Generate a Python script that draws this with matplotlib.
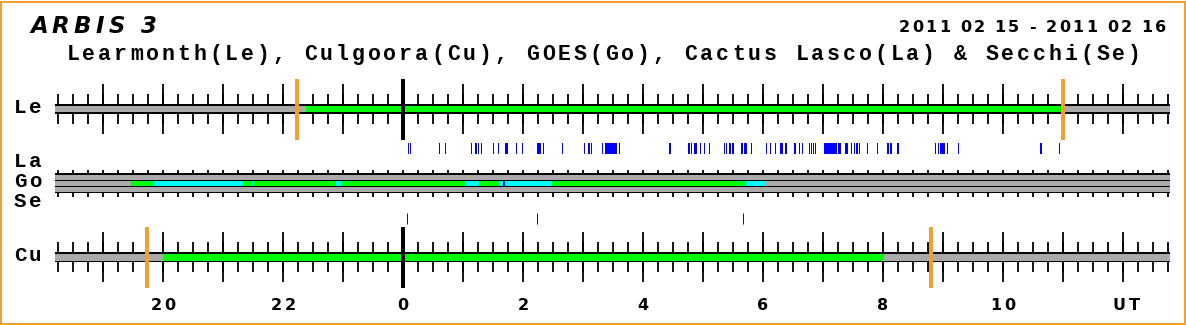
import matplotlib
matplotlib.use("Agg")
import matplotlib.pyplot as plt
import numpy as np
from matplotlib.font_manager import FontProperties
from matplotlib.patches import Rectangle

# ---------------- data (times in minutes relative to 00 UT, 2011-02-16) ----------------
hour_ticks = [-4, -2, 0, 2, 4, 6, 8, 10]
hour_labels = ["20", "22", "0", "2", "4", "6", "8", "10"]

le_obs = (-97, 659)            # Learmonth observing window (green)
le_marks = [-106, 660]         # Learmonth sunrise / sunset (orange)
cu_obs = (-240, 481)           # Culgoora observing window
cu_marks = [-256, 528]         # Culgoora sunrise / sunset

go_start = [-272, -249, -160, -151, -150, -67, -62, 62, 76, 96, 100, 102, 149, 343]
go_end   = [-249, -160, -151, -150, -67, -62, 62, 76, 96, 100, 102, 149, 343, 362]
go_color = ["g", "c", "g", "c", "g", "c", "g", "c", "g", "c", "b", "c", "g", "c"]

la_start = [5, 7, 36, 42, 68, 72, 75, 78, 90, 95, 102, 113, 119, 134, 140, 159, 181, 185,
            188, 199, 202, 216, 266, 285, 288, 291, 297, 301, 306, 321, 323, 326, 329, 338,
            341, 348, 363, 367, 372, 377, 382, 391, 396, 399, 406, 408, 410, 412, 421, 435,
            442, 448, 451, 453, 454, 456, 464, 474, 484, 487, 494, 532, 535, 537, 544, 555,
            637, 656]
la_dur = [1, 1, 1, 1, 1, 2, 1, 1, 1, 1, 3, 1, 1, 4, 1, 1, 1, 2,
          1, 1, 12, 1, 2, 2, 1, 3, 1, 1, 1, 1, 1, 2, 2, 2,
          3, 1, 1, 1, 1, 3, 2, 2, 1, 1, 1, 1, 1, 1, 13, 3,
          3, 1, 1, 1, 1, 1, 1, 1, 2, 2, 2, 1, 1, 5, 1, 1,
          2, 1]

se_times = [4, 134, 340]

x_min, x_max = -348, 767       # axis span in minutes

# ---------------- style ----------------
W, H = 1186, 325
GREEN, CYAN, BLUE = "#00FF00", "#00FFFF", "#0000FF"
GREY, ORANGE = "#AAAAAA", "#F0A030"
cmap = {"g": GREEN, "c": CYAN, "b": BLUE}

def px(v):  # pixel -> points
    return v * 72.0 / 100.0

fig = plt.figure(figsize=(W / 100, H / 100), dpi=100)
ax = fig.add_axes([0, 0, 1, 1])
ax.set_xlim(-403, W - 403)
ax.set_ylim(H, 0)
ax.axis("off")

renderer = fig.canvas.get_renderer()

def tracked(s, y, prop, x0=None, x1=None, track=0.0, center=None, color="black"):
    widths = [renderer.get_text_width_height_descent(c, prop, ismath=False)[0] for c in s]
    if x0 is not None and x1 is not None and len(s) > 1:
        track = (x1 - x0 - sum(widths)) / (len(s) - 1)
    total = sum(widths) + track * (len(s) - 1)
    if center is not None:
        x0 = center - total / 2
    x = x0
    for c, w in zip(s, widths):
        fig.text(x / W, 1 - y / H, c, fontproperties=prop, ha="left", va="baseline", color=color)
        x += w + track

minor = np.arange(x_min + 3, x_max + 1, 15)
hours = np.arange(-300, x_max + 1, 60)
tlw = px(1.8)

def station_row(top, bot, inner_top, inner_bot, obs, marks, zero_top, zero_bot):
    ax.add_patch(Rectangle((x_min, top), x_max - x_min, bot - top, color="black", lw=0))
    ax.add_patch(Rectangle((x_min, inner_top), x_max - x_min, inner_bot - inner_top, color=GREY, lw=0))
    ax.add_patch(Rectangle((obs[0], inner_top), obs[1] - obs[0], inner_bot - inner_top, color=GREEN, lw=0))
    ax.vlines(minor, top - 10, top, color="black", lw=tlw)
    ax.vlines(minor, bot, bot + 10, color="black", lw=tlw)
    ax.vlines(hours, top - 20, top, color="black", lw=tlw)
    ax.vlines(hours, bot, bot + 20, color="black", lw=tlw)
    ax.vlines([0], zero_top, zero_bot, color="black", lw=px(4))
    ax.vlines(marks, zero_top, zero_bot, color=ORANGE, lw=px(4))

# Learmonth row
station_row(104, 114.3, 106, 112.3, le_obs, le_marks, 79, 140)
# Culgoora row
station_row(251.7, 262.3, 254, 260.7, cu_obs, cu_marks, 227, 288)

# La / Go / Se strip
ax.add_patch(Rectangle((x_min, 173.3), x_max - x_min, 20, color="black", lw=0))
for a, b in [(175, 180), (181, 185.7), (186.7, 191.7)]:
    ax.add_patch(Rectangle((x_min, a), x_max - x_min, b - a, color=GREY, lw=0))
for s, e, c in zip(go_start, go_end, go_color):
    ax.add_patch(Rectangle((s, 181), e - s, 4.7, color=cmap[c], lw=0))
ax.vlines(minor, 170, 173.3, color="black", lw=tlw)
ax.vlines(minor, 193.3, 196.7, color="black", lw=tlw)

# Lasco bursts (blue marks)
for s, d in zip(la_start, la_dur):
    ax.add_patch(Rectangle((s - 0.5, 143), d, 11, color=BLUE, lw=0))

# Secchi events
ax.vlines(se_times, 213, 224, color=BLUE, lw=px(1))

# ---------------- texts ----------------
title_p = FontProperties(family="DejaVu Sans", weight="bold", style="oblique", size=16.5)
date_p = FontProperties(family="DejaVu Sans", weight="bold", size=11.5)
sub_p = FontProperties(family="Liberation Mono", weight="bold", size=15.5)
lab_p = FontProperties(family="Liberation Mono", weight="bold", size=15)
hr_p = FontProperties(family="DejaVu Sans", weight="bold", size=11.5)

tracked("ARBIS 3", 33.3, title_p, x0=30, x1=157)
tracked("2011 02 15 - 2011 02 16", 31.7, date_p, x0=899, x1=1166)
tracked("Learmonth(Le), Culgoora(Cu), GOES(Go), Cactus Lasco(La) & Secchi(Se)",
        60, sub_p, x0=66.5, x1=1141)

for s, y in [("Le", 113.3), ("La", 166.7), ("Go", 187.5), ("Se", 206.7), ("Cu", 260.7)]:
    tracked(s, y, lab_p, x0=14, x1=41.5)

for h, s in zip(hour_ticks, hour_labels):
    tracked(s, 310, hr_p, track=3.0, center=403 + 60 * h)
tracked("UT", 310, hr_p, track=3.0, center=403 + 60 * 12.05)

# border
fig.patches.append(Rectangle((1 / W, 1 / H), 1 - 2 / W, 1 - 2.5 / H, transform=fig.transFigure,
                             fill=False, edgecolor=ORANGE, lw=px(2)))

fig.savefig("out.png", dpi=100)
